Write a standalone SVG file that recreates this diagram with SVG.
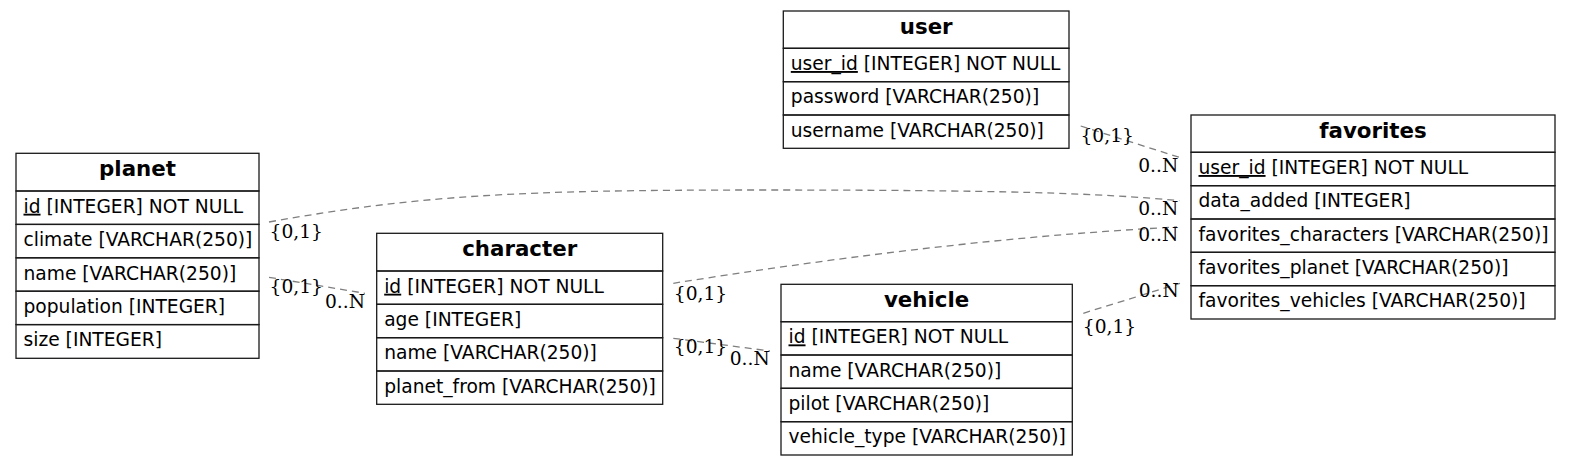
<svg xmlns="http://www.w3.org/2000/svg" width="1571" height="466" viewBox="0 0 1571 466">
<style>
.bg{fill:#ffffff}
.cell{fill:none;stroke:#1a1a1a;stroke-width:1.3}
.hd{font-family:"DejaVu Sans",sans-serif;font-weight:bold;font-size:21.33px;fill:#000;text-anchor:middle}
.row{font-family:"DejaVu Sans",sans-serif;font-size:18.67px;fill:#000}
.pk{text-decoration:underline}
.edge{fill:none;stroke:#7f7f7f;stroke-width:1.3;stroke-dasharray:7,5}
.lbl{font-family:"DejaVu Serif",serif;font-size:18.67px;fill:#000;text-anchor:middle}
</style>
<rect class="bg" x="0" y="0" width="1571" height="466"/>
<g id="connectors">
<path class="edge" d="M1080.7,126 L1179.3,157.3"/>
<path class="edge" d="M269,222 C420,195 520,190 760,190 C1000,190 1100,193 1179.3,200.7"/>
<path class="edge" d="M269,277.3 L365,293.3"/>
<path class="edge" d="M673.3,283.3 C820,260 1000,236 1177,227"/>
<path class="edge" d="M673.3,338.3 L770,351"/>
<path class="edge" d="M1083.3,313.3 L1180,283.3"/>
<text class="lbl" x="1107.2" y="141.7">{0,1}</text>
<text class="lbl" x="1158.2" y="171.7">0..N</text>
<text class="lbl" x="296.3" y="238.3">{0,1}</text>
<text class="lbl" x="1158.2" y="215">0..N</text>
<text class="lbl" x="296.3" y="292.7">{0,1}</text>
<text class="lbl" x="345" y="308.3">0..N</text>
<text class="lbl" x="700.5" y="300">{0,1}</text>
<text class="lbl" x="1158.2" y="241">0..N</text>
<text class="lbl" x="700.5" y="353.3">{0,1}</text>
<text class="lbl" x="749.7" y="365">0..N</text>
<text class="lbl" x="1109.5" y="332.7">{0,1}</text>
<text class="lbl" x="1158.7" y="297.3">0..N</text>
</g>
<g id="planet">
<rect class="cell" x="16" y="153.3" width="243" height="37.7"/>
<rect class="cell" x="16" y="191" width="243" height="33.4"/>
<rect class="cell" x="16" y="224.4" width="243" height="33.4"/>
<rect class="cell" x="16" y="257.8" width="243" height="33.4"/>
<rect class="cell" x="16" y="291.2" width="243" height="33.4"/>
<rect class="cell" x="16" y="324.6" width="243" height="33.7"/>
<text class="hd" x="137.5" y="176">planet</text>
<text class="row" x="23.5" y="212.7"><tspan class="pk">id</tspan> [INTEGER] NOT NULL</text>
<text class="row" x="23.5" y="246.1">climate [VARCHAR(250)]</text>
<text class="row" x="23.5" y="279.5">name [VARCHAR(250)]</text>
<text class="row" x="23.5" y="312.9">population [INTEGER]</text>
<text class="row" x="23.5" y="346.3">size [INTEGER]</text>
</g>
<g id="character">
<rect class="cell" x="376.7" y="233.3" width="286" height="37.7"/>
<rect class="cell" x="376.7" y="271" width="286" height="33.3"/>
<rect class="cell" x="376.7" y="304.3" width="286" height="33.4"/>
<rect class="cell" x="376.7" y="337.7" width="286" height="33.3"/>
<rect class="cell" x="376.7" y="371" width="286" height="33.3"/>
<text class="hd" x="519.7" y="256">character</text>
<text class="row" x="384.2" y="292.7"><tspan class="pk">id</tspan> [INTEGER] NOT NULL</text>
<text class="row" x="384.2" y="326">age [INTEGER]</text>
<text class="row" x="384.2" y="359.4">name [VARCHAR(250)]</text>
<text class="row" x="384.2" y="392.7">planet_from [VARCHAR(250)]</text>
</g>
<g id="user">
<rect class="cell" x="783.3" y="11" width="285.7" height="37.3"/>
<rect class="cell" x="783.3" y="48.3" width="285.7" height="33.4"/>
<rect class="cell" x="783.3" y="81.7" width="285.7" height="33.3"/>
<rect class="cell" x="783.3" y="115" width="285.7" height="33.3"/>
<text class="hd" x="926.2" y="33.7">user</text>
<text class="row" x="790.8" y="70"><tspan class="pk">user_id</tspan> [INTEGER] NOT NULL</text>
<text class="row" x="790.8" y="103.4">password [VARCHAR(250)]</text>
<text class="row" x="790.8" y="136.7">username [VARCHAR(250)]</text>
</g>
<g id="favorites">
<rect class="cell" x="1191" y="115" width="364" height="37.3"/>
<rect class="cell" x="1191" y="152.3" width="364" height="33.4"/>
<rect class="cell" x="1191" y="185.7" width="364" height="33.3"/>
<rect class="cell" x="1191" y="219" width="364" height="33.3"/>
<rect class="cell" x="1191" y="252.3" width="364" height="33.4"/>
<rect class="cell" x="1191" y="285.7" width="364" height="33.3"/>
<text class="hd" x="1373" y="137.7">favorites</text>
<text class="row" x="1198.5" y="174"><tspan class="pk">user_id</tspan> [INTEGER] NOT NULL</text>
<text class="row" x="1198.5" y="207.4">data_added [INTEGER]</text>
<text class="row" x="1198.5" y="240.7">favorites_characters [VARCHAR(250)]</text>
<text class="row" x="1198.5" y="274">favorites_planet [VARCHAR(250)]</text>
<text class="row" x="1198.5" y="307.4">favorites_vehicles [VARCHAR(250)]</text>
</g>
<g id="vehicle">
<rect class="cell" x="781" y="284.3" width="291.3" height="37.4"/>
<rect class="cell" x="781" y="321.7" width="291.3" height="33.3"/>
<rect class="cell" x="781" y="355" width="291.3" height="33.3"/>
<rect class="cell" x="781" y="388.3" width="291.3" height="33.4"/>
<rect class="cell" x="781" y="421.7" width="291.3" height="33.3"/>
<text class="hd" x="926.6" y="307">vehicle</text>
<text class="row" x="788.5" y="343.4"><tspan class="pk">id</tspan> [INTEGER] NOT NULL</text>
<text class="row" x="788.5" y="376.7">name [VARCHAR(250)]</text>
<text class="row" x="788.5" y="410">pilot [VARCHAR(250)]</text>
<text class="row" x="788.5" y="443.4">vehicle_type [VARCHAR(250)]</text>
</g>
</svg>
